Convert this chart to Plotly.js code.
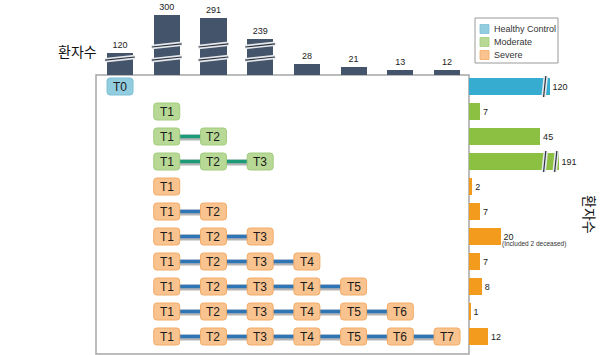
<!DOCTYPE html>
<html><head><meta charset="utf-8">
<script src="https://cdn.plot.ly/plotly-3.0.1.min.js"></script>
<style>html,body{margin:0;padding:0;background:#fff}#chart{width:600px;height:355px}</style>
</head><body><div id="chart"></div>
<script>
// ---------- data ----------
const timepoints = ['T0','T1','T2','T3','T4','T5','T6','T7'];
const patientsPerTimepoint = [120,300,291,239,28,21,13,12];
const groups = ['Healthy Control','Moderate','Severe'];
const rowGroup = ['Healthy Control','Moderate','Moderate','Moderate','Severe','Severe','Severe','Severe','Severe','Severe','Severe'];
const rowFirstTimepoint = [0,1,1,1,1,1,1,1,1,1,1];
const rowLastTimepoint  = [0,1,2,3,1,2,3,4,5,6,7];
const rowPatients = [120,7,45,191,2,7,20,7,8,1,12];
const rowNotes = ['','','','','','','(Included 2 deceased)','','','',''];
const yLabel = '환자수';

// ---------- styles ----------
const barColor = {'Healthy Control':'#36acd0','Moderate':'#8cc043','Severe':'#f29b1d'};
const boxFill  = {'Healthy Control':'#92cddf','Moderate':'#b7d995','Severe':'#f9c38f'};
const boxLine  = {'Healthy Control':'#7cbfd5','Moderate':'#a2cc7e','Severe':'#f2ab66'};
const linkColor = {'Moderate':'#1d9b79','Severe':'#2e75b6'};
const topBarColor = '#44546a';
const FONT = 'Liberation Sans, Arial, sans-serif';
const KFONT = 'Noto Sans CJK KR, sans-serif';

// broken-axis scales (axis breaks as in the original)
function topScale(v){ if(v<=30) return v; if(v<=240) return 30+(v-30)*0.29; return 30+210*0.29+(v-240); }
function rightScale(v){ return v<=45 ? v : 45+(v-45)*0.08; }

const traces = [];
const shapes = [];
const annotations = [];

// top bars
traces.push({
  type:'bar', x: timepoints.map((t,i)=>i), y: patientsPerTimepoint.map(topScale),
  xaxis:'x', yaxis:'y', width:0.56, marker:{color:topBarColor, line:{width:0}},
  text: patientsPerTimepoint.map(String), textposition:'outside', constraintext:'none',
  textfont:{family:FONT, size:9, color:'#222'}, cliponaxis:false, hoverinfo:'skip', showlegend:false
});

// connectors per group
['Moderate','Severe'].forEach(g=>{
  const xs=[], ys=[];
  rowGroup.forEach((rg,r)=>{
    if(rg!==g || rowLastTimepoint[r]===rowFirstTimepoint[r]) return;
    xs.push(rowFirstTimepoint[r], rowLastTimepoint[r], null);
    ys.push(r, r, null);
  });
  traces.push({type:'scatter', mode:'lines', x:xs, y:ys.map(v=>v===null?null:v+0.04), xaxis:'x', yaxis:'y2',
    line:{color:'#b4b4b4', width:6}, hoverinfo:'skip', showlegend:false});
  traces.push({type:'scatter', mode:'lines', x:xs, y:ys, xaxis:'x', yaxis:'y2',
    line:{color:linkColor[g], width:3.6}, hoverinfo:'skip', showlegend:false});
});

// right bars
traces.push({
  type:'bar', orientation:'h', y: rowPatients.map((v,r)=>r), x: rowPatients.map(rightScale),
  xaxis:'x3', yaxis:'y2', width:0.66, marker:{color:rowGroup.map(g=>barColor[g]), line:{width:0}},
  text: rowPatients.map(String), textposition:'outside', constraintext:'none',
  textfont:{family:FONT, size:9, color:'#222'}, cliponaxis:false, hoverinfo:'skip', showlegend:false
});

// timepoint boxes
const hw=0.278, hh=0.34, rx=0.064, ry=0.12;
function rrect(x,y){
  return `M ${x-hw+rx},${y-hh} L ${x+hw-rx},${y-hh} Q ${x+hw},${y-hh} ${x+hw},${y-hh+ry} L ${x+hw},${y+hh-ry} Q ${x+hw},${y+hh} ${x+hw-rx},${y+hh} L ${x-hw+rx},${y+hh} Q ${x-hw},${y+hh} ${x-hw},${y+hh-ry} L ${x-hw},${y-hh+ry} Q ${x-hw},${y-hh} ${x-hw+rx},${y-hh} Z`;
}
rowGroup.forEach((g,r)=>{
  for(let t=rowFirstTimepoint[r]; t<=rowLastTimepoint[r]; t++){
    shapes.push({type:'path', xref:'x', yref:'y2', path:rrect(t,r), fillcolor:boxFill[g], line:{color:boxLine[g], width:1}, layer:'above'});
    annotations.push({xref:'x', yref:'y2', x:t, y:r, text:timepoints[t], showarrow:false, font:{family:FONT, size:12, color:'#1a1a1a'}});
  }
  if(rowNotes[r]) annotations.push({xref:'x3', yref:'y2', x:rightScale(rowPatients[r])-0.4, y:r+0.3, text:rowNotes[r], xanchor:'left', yanchor:'middle', showarrow:false, font:{family:FONT, size:6.5, color:'#333'}});
});

// break marks
function breakMark(xref, yref, x0,y0,x1,y1){
  shapes.push({type:'line', xref, yref, x0,y0,x1,y1, line:{color:'#e6e8ec', width:4.5}, layer:'above'});
  shapes.push({type:'line', xref, yref, x0,y0,x1,y1, line:{color:'#2a3340', width:1.2}, layer:'above'});
}
patientsPerTimepoint.forEach((v,i)=>{
  if(v>30) breakMark('x','y', i-0.32, 37, i+0.32, 45);
  if(v>200) breakMark('x','y', i-0.32, 70, i+0.32, 78);
});
rowPatients.forEach((v,r)=>{
  if(v>45) breakMark('x3','y2', 47.2, r+0.42, 48.6, r-0.42);
  if(v>150) breakMark('x3','y2', 54.2, r+0.42, 55.6, r-0.42);
});

// main frame
shapes.push({type:'rect', xref:'paper', yref:'paper', x0:0.16, x1:0.78167, y0:0.0028, y1:0.7887, line:{color:'#a6a6a6', width:1.5}, layer:'below'});

// legend (manual)
shapes.push({type:'rect', xref:'paper', yref:'paper', x0:475/600, x1:558/600, y0:1-63/355, y1:1-18/355, line:{color:'#999', width:1}, fillcolor:'#fff'});
groups.forEach((g,i)=>{
  const yc = 29 + i*13;
  shapes.push({type:'rect', xref:'paper', yref:'paper', x0:480/600, x1:489/600, y0:1-(yc+4.5)/355, y1:1-(yc-4.5)/355, fillcolor:boxFill[g], line:{color:boxLine[g], width:0.8}});
  annotations.push({xref:'paper', yref:'paper', x:492/600, y:1-yc/355, text:g, xanchor:'left', yanchor:'middle', showarrow:false, font:{family:FONT, size:9, color:'#333'}});
});

// axis labels
annotations.push({xref:'paper', yref:'paper', x:56/600, y:1-39/355, text:yLabel, showarrow:false, font:{family:KFONT, size:14, color:'#111'}});
annotations.push({xref:'paper', yref:'paper', x:602/600, y:1-214/355, text:yLabel, textangle:90, showarrow:false, font:{family:KFONT, size:14, color:'#111'}});

const layout = {
  width:600, height:355, margin:{l:0,r:0,t:0,b:0}, paper_bgcolor:'#fff', plot_bgcolor:'rgba(0,0,0,0)',
  showlegend:false, bargap:0,
  xaxis:{domain:[0.16,0.78167], range:[-0.514,7.47], visible:false, anchor:'y', fixedrange:true},
  yaxis:{domain:[0.7887,1], range:[0,187.5], visible:false, anchor:'x', fixedrange:true},
  yaxis2:{domain:[0.0028,0.7887], range:[10.7,-0.46], visible:false, anchor:'x', fixedrange:true},
  xaxis3:{domain:[0.78167,1], range:[0,82.9], visible:false, anchor:'y2', fixedrange:true},
  shapes, annotations
};
Plotly.newPlot('chart', traces, layout, {displayModeBar:false, staticPlot:true});
</script></body></html>
